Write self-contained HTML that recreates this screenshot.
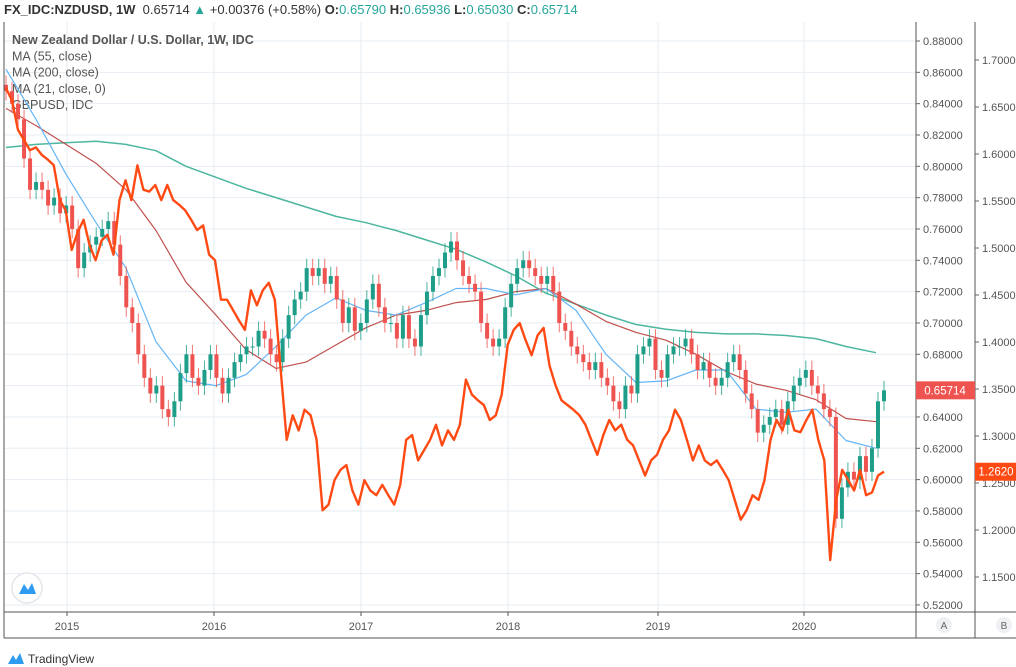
<!DOCTYPE html>
<html><head><meta charset="utf-8"><style>
body{margin:0;background:#fff;font-family:"Liberation Sans",sans-serif;}
#wrap{position:relative;width:1016px;height:667px;overflow:hidden;}
.hdr{position:absolute;left:4px;top:2px;font-size:13px;color:#333;white-space:nowrap;}
.hdr b{font-weight:bold}.hdr .t{color:#26a69a}
svg{position:absolute;left:0;top:0}
</style></head><body><div id="wrap">
<div class="hdr"><b>FX_IDC:NZDUSD, 1W</b>&nbsp; 0.65714 <span class="t">▲</span> +0.00376 (+0.58%) <b>O:</b><span class="t">0.65790</span> <b>H:</b><span class="t">0.65936</span> <b>L:</b><span class="t">0.65030</span> <b>C:</b><span class="t">0.65714</span></div>
<svg id="c" width="1016" height="667"></svg>
</div>
<script>
const nzdClose=[.848,.84,.83,.805,.785,.79,.785,.775,.78,.77,.775,.76,.735,.745,.75,.755,.76,.765,.75,.73,.71,.70,.68,.665,.655,.66,.645,.64,.65,.668,.68,.665,.66,.67,.68,.665,.655,.665,.675,.68,.685,.685,.695,.69,.68,.675,.69,.705,.715,.72,.735,.73,.735,.725,.73,.715,.70,.71,.695,.70,.715,.725,.71,.70,.70,.69,.705,.69,.685,.705,.72,.73,.735,.745,.752,.74,.73,.725,.72,.70,.69,.685,.69,.71,.725,.735,.74,.735,.73,.725,.73,.72,.70,.695,.685,.68,.675,.67,.675,.665,.66,.65,.645,.66,.655,.68,.685,.69,.67,.665,.68,.685,.685,.69,.68,.67,.675,.665,.66,.665,.675,.68,.67,.655,.645,.63,.635,.64,.645,.635,.65,.66,.665,.67,.66,.655,.645,.64,.575,.595,.605,.60,.615,.605,.62,.65,.657];
const gbpClose=[1.670,1.657,1.626,1.615,1.604,1.607,1.599,1.594,1.588,1.551,1.540,1.498,1.517,1.530,1.503,1.487,1.508,1.514,1.493,1.551,1.572,1.551,1.588,1.562,1.560,1.567,1.551,1.567,1.551,1.546,1.540,1.530,1.519,1.524,1.493,1.487,1.445,1.445,1.434,1.423,1.413,1.455,1.439,1.455,1.463,1.445,1.370,1.296,1.322,1.306,1.328,1.322,1.296,1.221,1.227,1.253,1.264,1.269,1.242,1.227,1.253,1.242,1.237,1.248,1.237,1.227,1.248,1.296,1.301,1.274,1.285,1.296,1.312,1.290,1.306,1.296,1.312,1.360,1.344,1.338,1.333,1.317,1.322,1.344,1.397,1.413,1.420,1.402,1.386,1.407,1.415,1.375,1.354,1.338,1.333,1.328,1.322,1.312,1.296,1.280,1.301,1.317,1.306,1.312,1.296,1.290,1.274,1.258,1.274,1.280,1.296,1.306,1.328,1.317,1.296,1.274,1.290,1.274,1.269,1.274,1.264,1.253,1.232,1.211,1.221,1.237,1.232,1.253,1.296,1.317,1.306,1.328,1.306,1.304,1.317,1.328,1.296,1.274,1.168,1.232,1.264,1.253,1.242,1.264,1.237,1.240,1.258,1.262];
const maBlue=[.862,.830,.795,.764,.735,.688,.663,.660,.667,.685,.705,.716,.708,.705,.713,.722,.722,.718,.722,.708,.680,.662,.663,.670,.670,.645,.643,.645,.625,.620];
const maRed=[.837,.826,.814,.802,.785,.759,.726,.705,.683,.671,.675,.686,.697,.705,.708,.713,.715,.720,.722,.712,.701,.694,.689,.680,.669,.661,.657,.651,.639,.637];
const maTeal=[.812,.814,.815,.816,.814,.810,.800,.793,.786,.780,.774,.768,.764,.759,.753,.747,.739,.730,.719,.712,.705,.699,.696,.694,.693,.693,.692,.690,.685,.681];
const ticksA=[0.88,0.86,0.84,0.82,0.80,0.78,0.76,0.74,0.72,0.70,0.68,0.66,0.64,0.62,0.60,0.58,0.56,0.54,0.52];
const ticksB=[1.70,1.65,1.60,1.55,1.50,1.45,1.40,1.35,1.30,1.25,1.20,1.15];
const years=["2015","2016","2017","2018","2019","2020"];
const yearX=[67,214,361,508,658,804];

const yA=v=>41+(0.88-v)/0.02*31.33;
const yB=v=>60+(1.70-v)/0.05*47;
const xI=(i,n)=>6+i*(884-6)/(n-1);
const xMA=(k,n)=>6+k*(876-6)/(n-1);
const NS='http://www.w3.org/2000/svg';
const svg=document.getElementById('c');
function el(t,a,p){const e=document.createElementNS(NS,t);for(const k in a)e.setAttribute(k,a[k]);(p||svg).appendChild(e);return e;}
// grid
ticksA.forEach(v=>{const g=el('line',{x1:4,x2:916,y1:yA(v),y2:yA(v),stroke:'#e6edf3','stroke-width':1});

});
yearX.forEach(x=>{const g=el('line',{x1:x,x2:x,y1:22,y2:612,stroke:'#e6edf3','stroke-width':1});

});
// legend
const leg=["New Zealand Dollar / U.S. Dollar, 1W, IDC","MA (55, close)","MA (200, close)","MA (21, close, 0)","GBPUSD, IDC"];
leg.forEach((s,i)=>{const t=el('text',{x:12,y:44+i*16.3,'font-size':12.5,fill:'#555','font-weight':i==0?'bold':'normal'});t.textContent=s;

});
// MA lines
function line(arr,fx,fy,col,w,name){const n=arr.length;const d=arr.map((v,i)=>(i?'L':'M')+fx(i,n).toFixed(1)+','+fy(v).toFixed(1)).join('');const p=el('path',{d:d,fill:'none',stroke:col,'stroke-width':w,'stroke-linejoin':'round'});

return p;}
line(maTeal,xMA,yA,'#4db6a0',1.5,'ma-200-line');
line(maRed,xMA,yA,'#c0504d',1.2,'ma-21-line');
line(maBlue,xMA,yA,'#64b5f6',1.2,'ma-55-line');
// candles
const n=nzdClose.length;
nzdClose.forEach((c,i)=>{const o=i?nzdClose[i-1]:c+0.004;const x=xI(i,n);const up=c>=o;const col=up?'#1e9e88':'#ef5350';
const hi=Math.max(o,c)+0.006,lo=Math.min(o,c)-0.006;
const w=el('line',{x1:x,x2:x,y1:yA(hi),y2:yA(lo),stroke:col,'stroke-width':1,opacity:0.8});


const top=yA(Math.max(o,c)),h=Math.max(1,yA(Math.min(o,c))-top);
const b=el('rect',{x:x-2,y:top,width:4,height:h,fill:col});

});
line(gbpClose,xI,yB,'#ff4a14',2.4,'gbpusd-line');
// axes
const ax=el('line',{x1:916,x2:916,y1:22,y2:638,stroke:'#555'});
const bx=el('line',{x1:975,x2:975,y1:22,y2:638,stroke:'#555'});
const lx=el('line',{x1:4,x2:4,y1:22,y2:638,stroke:'#555'});
const tx=el('line',{x1:4,x2:1016,y1:612,y2:612,stroke:'#555'});
const bb=el('line',{x1:4,x2:1016,y1:638,y2:638,stroke:'#555'});
ticksA.forEach(v=>{el('line',{x1:916,x2:920,y1:yA(v),y2:yA(v),stroke:'#666'});const t=el('text',{x:923,y:yA(v)+4,'font-size':11,fill:'#555'});t.textContent=v.toFixed(5);

});
ticksB.forEach(v=>{el('line',{x1:975,x2:979,y1:yB(v),y2:yB(v),stroke:'#666'});const t=el('text',{x:982,y:yB(v)+4,'font-size':11,fill:'#555'});t.textContent=v.toFixed(4);

});
years.forEach((s,i)=>{el('line',{x1:yearX[i],x2:yearX[i],y1:612,y2:616,stroke:'#555'});const t=el('text',{x:yearX[i],y:630,'font-size':11,fill:'#555','text-anchor':'middle'});t.textContent=s;

});
// last value labels
const lastA=nzdClose[n-1],lastB=gbpClose[gbpClose.length-1];
const ra=el('rect',{x:916,y:yA(lastA)-9,width:59,height:18,fill:'#ef5350'});
const ta=el('text',{x:945,y:yA(lastA)+4,'font-size':11.5,fill:'#fff','text-anchor':'middle'});ta.textContent='0.65714';
const rb=el('rect',{x:975,y:yB(lastB)-9,width:41,height:18,fill:'#ff4a14'});
const tb=el('text',{x:996,y:yB(lastB)+4,'font-size':11.5,fill:'#fff','text-anchor':'middle'});tb.textContent='1.2620';
// A / B buttons
[['A',944],['B',1004]].forEach(([s,x])=>{const c=el('circle',{cx:x,cy:625,r:8,fill:'#eef0f3'});const t=el('text',{x:x,y:629,'font-size':10,fill:'#666','text-anchor':'middle'});t.textContent=s;});
// logo bubble
const lc=el('circle',{cx:27,cy:588,r:15,fill:'#fff',stroke:'#e3e6ea','stroke-width':1.5});
el('path',{d:'M19,594 L24,584 L28,590 L32,583 L36,594 Z',fill:'#2e9bf0'});
el('path',{d:'M8,664 L13,655 L16,660 L20,653 L24,664 Z',fill:'#2e9bf0'});
const tv=el('text',{x:28,y:663,'font-size':12,fill:'#333'});tv.textContent='TradingView';
</script></body></html>
